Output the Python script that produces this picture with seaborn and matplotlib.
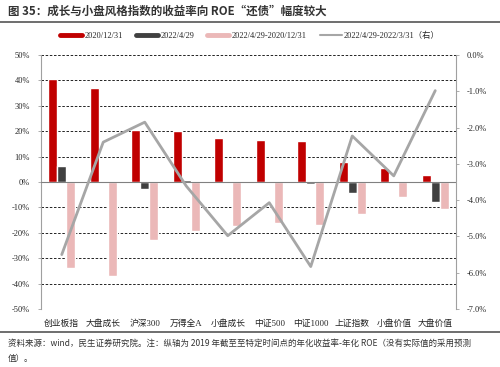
import numpy as np
import pandas as pd
import seaborn as sns
import matplotlib.pyplot as plt
from matplotlib.lines import Line2D
from matplotlib.ticker import FuncFormatter

# 数据
cats = ["创业板指", "大盘成长", "沪深300", "万得全A", "小盘成长",
        "中证500", "中证1000", "上证指数", "小盘价值", "大盘价值"]
v_2020 = [40.4, 37.0, 20.3, 20.0, 17.4, 16.5, 16.1, 7.9, 5.5, 2.8]
v_2022 = [6.3, 0.0, -2.6, 0.7, -0.3, 0.2, -0.8, -4.4, -0.2, -7.9]
v_diff = [-33.8, -37.1, -22.8, -19.2, -17.5, -16.0, -16.9, -12.6, -5.9, -10.6]
v_line = [-5.5, -2.4, -1.85, -3.61, -4.98, -4.07, -5.83, -2.23, -3.33, -0.98]

series = ["2020/12/31", "2022/4/29", "2022/4/29-2020/12/31"]
line_name = "2022/4/29-2022/3/31（右）"
colors = ["#C00000", "#404040", "#EBB8B8"]
line_color = "#A6A6A6"

df = pd.DataFrame({
    "cat": cats * 3,
    "series": np.repeat(series, len(cats)),
    "value": v_2020 + v_2022 + v_diff,
})

sns.set_style("white")
serif_cjk = ["Liberation Serif", "Noto Sans CJK SC"]
plt.rcParams["font.family"] = ["Noto Sans CJK SC", "DejaVu Sans"]

fig = plt.figure(figsize=(5, 3.67), dpi=100)
ax = fig.add_axes([0.082, 0.158, 0.83, 0.692])

sns.barplot(data=df, x="cat", y="value", hue="series", order=cats,
            hue_order=series, palette=colors, width=0.66, ax=ax,
            legend=False, saturation=1)

ax.set_ylim(-50, 50)
ax.set_yticks(np.arange(-50, 51, 10))
ax.yaxis.set_major_formatter(FuncFormatter(lambda v, p: f"{v:.0f}%"))
for y in np.arange(-40, 51, 10):
    if y != 0:
        ax.axhline(y, color="black", lw=0.6, ls=(0, (3, 2)), zorder=0)
ax.axhline(0, color="#808080", lw=0.8, zorder=3)
ax.set_xlabel("")
ax.set_ylabel("")
for s in ["top", "bottom", "right"]:
    ax.spines[s].set_visible(False)
ax.spines["left"].set_color("#A0A0A0")
ax.spines["left"].set_linewidth(0.8)
ax.tick_params(axis="y", left=True, length=2, width=0.6, color="#A0A0A0",
               labelsize=6, pad=6)
ax.tick_params(axis="x", bottom=False, labelsize=6.3, pad=4)
for t in ax.get_yticklabels():
    t.set_family(serif_cjk)
for t in ax.get_xticklabels():
    t.set_family(serif_cjk)
    t.set_color("#222222")

ax2 = ax.twinx()
sns.lineplot(x=np.arange(len(cats)), y=v_line, color=line_color, lw=2,
             ax=ax2, legend=False)
ax2.set_ylim(-7, 0)
ax2.set_yticks(np.arange(-7, 0.1, 1))
ax2.yaxis.set_major_formatter(FuncFormatter(lambda v, p: f"{v:.1f}%"))
ax2.set_xlim(-0.5, len(cats) - 0.5)
for s in ["top", "bottom", "left"]:
    ax2.spines[s].set_visible(False)
ax2.spines["right"].set_color("#A0A0A0")
ax2.spines["right"].set_linewidth(0.8)
ax2.tick_params(axis="y", right=True, length=2, width=0.6, color="#A0A0A0",
                labelsize=6, pad=6)
for t in ax2.get_yticklabels():
    t.set_family(serif_cjk)
ax2.set_ylabel("")

# 图例
handles = [Line2D([0], [0], color=c, lw=3.5) for c in colors]
handles.append(Line2D([0], [0], color=line_color, lw=1.5))
fig.legend(handles, series + [line_name], loc="center",
           bbox_to_anchor=(0.5, 1 - 36 / 367), ncol=4, frameon=False,
           prop={"family": serif_cjk, "size": 6}, handlelength=2.6,
           columnspacing=1.6, handletextpad=0.3)

# 标题和注释
fig.text(0.016, 1 - 11 / 367, "图 35：成长与小盘风格指数的收益率向 ROE“还债”幅度较大",
         fontsize=8.3, fontweight="bold", color="#333333", va="center")
fig.add_artist(Line2D([0, 1], [1 - 22 / 367] * 2, color="#555555", lw=1.2))
fig.add_artist(Line2D([0, 1], [1 - 332 / 367] * 2, color="#555555", lw=1.2))
fig.text(0.016, 1 - 343 / 367,
         "资料来源：wind，民生证券研究院。注：纵轴为 2019 年截至至特定时间点的年化收益率-年化 ROE（没有实际值的采用预测",
         fontsize=6.1, color="#333333", va="center")
fig.text(0.016, 1 - 358 / 367, "值）。", fontsize=6.1, color="#333333", va="center")

fig.savefig("out.png", dpi=100)
